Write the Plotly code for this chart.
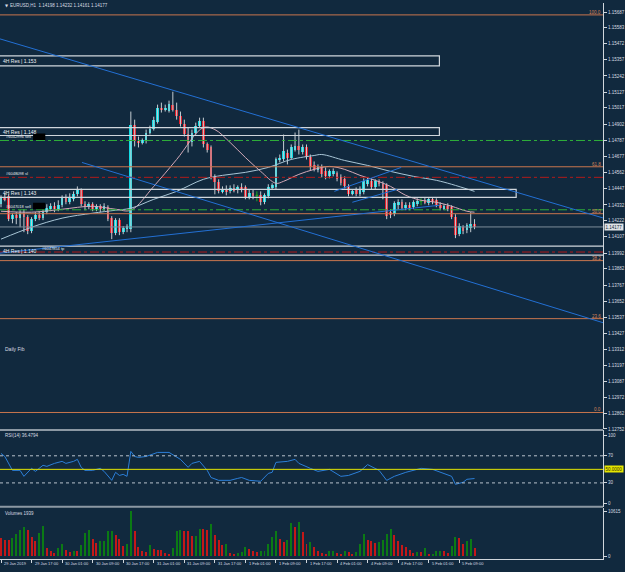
import plotly.graph_objects as go

W, H = 625, 572
BG = '#11293e'
TXT = '#d8dde2'
FONT = 'Liberation Sans'

# ---------------- data ----------------
time_labels = ["29 Jan 2019", "29 Jan 17:00", "30 Jan 01:00", "30 Jan 09:00", "30 Jan 17:00",
               "31 Jan 01:00", "31 Jan 09:00", "31 Jan 17:00", "1 Feb 01:00", "1 Feb 09:00",
               "1 Feb 17:00", "4 Feb 01:00", "4 Feb 09:00", "4 Feb 17:00", "5 Feb 01:00", "5 Feb 09:00"]
time_label_bars = [0, 8, 16, 24, 32, 40, 48, 56, 64, 72, 80, 88, 96, 104, 112, 120]

opens = [1.14337,1.14386,1.14393,1.14232,1.14260,1.14239,1.14274,1.14246,1.14147,1.14232,
         1.14260,1.14239,1.14281,1.14309,1.14323,1.14302,1.14330,1.14379,1.14351,1.14372,
         1.14407,1.14435,1.14337,1.14316,1.14337,1.14302,1.14323,1.14302,1.14316,1.14239,
         1.14133,1.14225,1.14140,1.14168,1.14161,1.14899,1.14780,1.14773,1.14780,1.14843,
         1.14871,1.14920,1.15019,1.15005,1.14998,1.15040,1.15005,1.14963,1.14906,1.14836,
         1.14773,1.14843,1.14892,1.14927,1.14759,1.14738,1.14527,1.14492,1.14428,1.14442,
         1.14428,1.14449,1.14435,1.14456,1.14456,1.14386,1.14414,1.14400,1.14400,1.14351,
         1.14393,1.14456,1.14456,1.14653,1.14653,1.14702,1.14667,1.14723,1.14745,1.14709,
         1.14738,1.14674,1.14611,1.14583,1.14597,1.14569,1.14534,1.14548,1.14555,1.14527,
         1.14513,1.14463,1.14414,1.14435,1.14407,1.14421,1.14478,1.14499,1.14456,1.14499,
         1.14478,1.14470,1.14281,1.14267,1.14330,1.14351,1.14309,1.14330,1.14316,1.14344,
         1.14358,1.14365,1.14344,1.14372,1.14365,1.14330,1.14309,1.14323,1.14316,1.14246,
         1.14126,1.14175,1.14154,1.14168,1.14198]
highs = [1.14400,1.14414,1.14407,1.14274,1.14281,1.14295,1.14302,1.14260,1.14246,1.14281,
         1.14288,1.14302,1.14337,1.14344,1.14351,1.14365,1.14400,1.14407,1.14414,1.14428,
         1.14463,1.14449,1.14358,1.14351,1.14351,1.14337,1.14337,1.14344,1.14330,1.14253,
         1.14239,1.14239,1.14182,1.14196,1.14991,1.14934,1.14815,1.14801,1.14864,1.14892,
         1.14955,1.15040,1.15054,1.15040,1.15068,1.15131,1.15054,1.14991,1.14934,1.14878,
         1.14864,1.14913,1.14948,1.14948,1.14773,1.14752,1.14548,1.14513,1.14463,1.14470,
         1.14470,1.14478,1.14470,1.14485,1.14470,1.14442,1.14442,1.14428,1.14428,1.14414,
         1.14478,1.14485,1.14667,1.14688,1.14829,1.14723,1.14759,1.14843,1.14864,1.14759,
         1.14759,1.14688,1.14639,1.14618,1.14618,1.14597,1.14583,1.14590,1.14569,1.14548,
         1.14534,1.14478,1.14442,1.14456,1.14463,1.14520,1.14527,1.14520,1.14513,1.14513,
         1.14499,1.14485,1.14302,1.14358,1.14372,1.14372,1.14351,1.14351,1.14365,1.14379,
         1.14379,1.14386,1.14386,1.14386,1.14379,1.14351,1.14337,1.14344,1.14330,1.14267,
         1.14203,1.14189,1.14203,1.14281,1.14232]
lows = [1.14316,1.14358,1.14218,1.14203,1.14196,1.14175,1.14140,1.14126,1.14133,1.14218,
        1.14225,1.14225,1.14267,1.14288,1.14281,1.14288,1.14316,1.14337,1.14337,1.14358,
        1.14393,1.14323,1.14295,1.14302,1.14288,1.14288,1.14281,1.14288,1.14218,1.14091,
        1.14119,1.14119,1.14126,1.14140,1.14140,1.14745,1.14738,1.14759,1.14766,1.14829,
        1.14857,1.14906,1.14984,1.14991,1.14984,1.14991,1.14934,1.14885,1.14815,1.14702,
        1.14745,1.14829,1.14878,1.14738,1.14702,1.14513,1.14407,1.14414,1.14414,1.14400,
        1.14414,1.14421,1.14414,1.14421,1.14372,1.14372,1.14372,1.14358,1.14330,1.14337,
        1.14379,1.14442,1.14442,1.14632,1.14639,1.14618,1.14653,1.14709,1.14688,1.14688,
        1.14653,1.14576,1.14569,1.14562,1.14527,1.14513,1.14520,1.14534,1.14499,1.14470,
        1.14449,1.14393,1.14400,1.14393,1.14393,1.14407,1.14463,1.14442,1.14442,1.14463,
        1.14372,1.14232,1.14239,1.14253,1.14302,1.14295,1.14295,1.14295,1.14302,1.14323,
        1.14330,1.14337,1.14330,1.14337,1.14316,1.14295,1.14295,1.14288,1.14232,1.14098,
        1.14112,1.14126,1.14133,1.14140,1.14161]
closes = [1.14379,1.14372,1.14232,1.14260,1.14239,1.14274,1.14246,1.14147,1.14232,1.14260,
          1.14239,1.14281,1.14309,1.14323,1.14302,1.14330,1.14379,1.14351,1.14386,1.14407,
          1.14442,1.14337,1.14316,1.14337,1.14302,1.14323,1.14302,1.14323,1.14232,1.14133,
          1.14225,1.14140,1.14168,1.14182,1.14899,1.14780,1.14773,1.14787,1.14843,1.14871,
          1.14934,1.15019,1.15005,1.15019,1.15047,1.15005,1.14963,1.14906,1.14836,1.14759,
          1.14843,1.14892,1.14927,1.14759,1.14723,1.14527,1.14492,1.14428,1.14442,1.14428,
          1.14449,1.14435,1.14456,1.14442,1.14386,1.14414,1.14400,1.14400,1.14351,1.14400,
          1.14456,1.14470,1.14653,1.14667,1.14716,1.14667,1.14738,1.14745,1.14723,1.14738,
          1.14674,1.14597,1.14583,1.14597,1.14548,1.14534,1.14569,1.14569,1.14513,1.14485,
          1.14463,1.14407,1.14428,1.14407,1.14442,1.14499,1.14506,1.14456,1.14499,1.14478,
          1.14442,1.14253,1.14260,1.14344,1.14351,1.14309,1.14330,1.14309,1.14351,1.14358,
          1.14358,1.14351,1.14372,1.14358,1.14330,1.14309,1.14323,1.14302,1.14246,1.14119,
          1.14182,1.14147,1.14189,1.14196,1.14177]

volumes = [4250,3850,3800,4250,5190,6210,6760,6210,4400,3620,
           5430,7000,1890,1260,710,1890,2830,1490,940,1100,
           1080,2520,5430,6210,4010,3070,3460,3500,5820,5850,
           5030,4010,2440,2830,10615,5970,2120,1260,940,2670,
           1730,1490,1340,710,470,1890,5820,6050,5970,5900,
           4640,4700,6370,6300,6210,7628,5030,3850,2670,2910,
           710,310,710,940,2040,1730,1260,860,1100,1150,
           2830,4400,5820,4090,3220,3850,7784,6840,7940,5660,
           2830,3300,2120,1260,710,470,1100,1260,710,470,
           1100,940,470,860,2830,5190,3850,3620,3070,3300,
           3850,5270,6370,5030,3460,2670,2040,1490,710,940,
           860,1890,310,470,1100,1260,1100,710,2280,4480,
           4250,2910,3460,4010,1939]

rsi_bars = [0,1,3,5,6,8,9,11,12,14,16,17,19,20,21,22,24,26,27,29,30,31,32,33,34,35,36,38,41,44,
            47,49,50,52,54,55,57,60,62,63,65,68,70,71,72,75,77,78,81,83,86,89,91,94,96,98,99,101,
            103,106,110,113,116,118,119,121,122,124]
rsi_vals = [73.5,69,48.5,48.5,39.7,51.5,47,56,54.4,58.8,61.8,58.8,61.8,64.7,53,48.5,48.5,51.5,47,33.8,
            45.6,41,42.6,39.7,76.5,69,67.6,69,75,75,64.7,53,58.8,61.8,48.5,38,33.8,33.8,36.7,38,
            33.8,32.4,44,45.6,60.3,61.8,64.7,58.8,51.5,47,50,39.7,41,47,57,51.5,48.5,33.8,39.7,45.6,
            51.5,50,44,39.7,27.9,30.9,35.3,36.48]

ma_fast_bars = [0,8,16,24,30,34,40,46,53,56,60,64,68,72,74,78,82,86,90,94,98,102,106,110,114,118,122,124]
ma_fast_vals = [1.14288,1.14281,1.14302,1.14323,1.14302,1.14295,1.14463,1.14653,1.14878,1.14864,
                1.14773,1.14667,1.14569,1.14485,1.14499,1.14548,1.14583,1.14604,1.14583,1.14541,
                1.14506,1.14463,1.14400,1.14365,1.14351,1.14323,1.14288,1.14281]
ma_slow_bars = [0,8,16,24,30,34,40,46,53,58,64,70,76,82,84,90,96,102,108,114,118,124]
ma_slow_vals = [1.14091,1.14175,1.14239,1.14274,1.14295,1.14309,1.14372,1.14428,1.14513,1.14541,
                1.14562,1.14597,1.14653,1.14681,1.14688,1.14646,1.14611,1.14569,1.14534,1.14506,
                1.14478,1.14428]

price_ticks = [1.15687,1.15583,1.15472,1.15357,1.15242,1.15127,1.15017,1.14902,1.14787,1.14677,
               1.14562,1.14447,1.14332,1.14222,1.14107,1.13992,1.13882,1.13767,1.13652,1.13537,
               1.13427,1.13312,1.13197,1.13087,1.12972,1.12862,1.12752]

fib_low, fib_high = 1.12868, 1.15673
fib_levels = [0.0, 23.6, 38.2, 50.0, 61.8, 100.0]

rect_labels = ["4H Res | 1.153", "4H Res | 1.148", "4H Res | 1.143", "4H Res | 1.140"]
rect_top = [1.15384, 1.14878, 1.14442, 1.14042]
rect_bottom = [1.15314, 1.14822, 1.14386, 1.13978]
rect_end_bar = [114.8, 114.8, 134.9, 160.0]

order_labels = ["#6042996 sell", "#6048098 sl", "#6047018 sell", "#6047854 tp"]
order_prices = [1.14787, 1.14527, 1.14298, 1.14000]
order_kind = ["sell", "sl", "sell", "tp"]

tl_x0 = [-0.3, 21.2, -0.3, 87.3, 92.0]
tl_y0 = [1.15504, 1.14632, 1.13992, 1.14428, 1.14351]
tl_x1 = [157.7, 157.7, 114.8, 104.8, 103.8]
tl_y1 = [1.14240, 1.13501, 1.14330, 1.14597, 1.14442]

bid = 1.14177
rsi_last = 36.4794
vol_max = 10615

# ---------------- geometry (pixels -> paper) ----------------
def px(x):
    return x / W

def py(y):
    return 1 - y / H

X_RIGHT = 604
x_range = [-0.261, 157.65]
main_range = [1.12748, 1.15757]

BULL = '#12dbe3'
BEAR = '#e3202a'
WICK = '#c4ccd2'
DOJI = '#22b022'

fig = go.Figure()

# wicks
for kind, col in (("bull", WICK), ("bear", WICK), ("doji", DOJI)):
    xs, ys = [], []
    for i in range(len(closes)):
        k = "bull" if closes[i] > opens[i] else ("bear" if closes[i] < opens[i] else "doji")
        if k == kind:
            xs += [i, i, None]
            ys += [lows[i], highs[i], None]
    fig.add_trace(go.Scatter(x=xs, y=ys, mode='lines', line=dict(color=col, width=1),
                             hoverinfo='skip', showlegend=False))

bull_i = [i for i in range(len(closes)) if closes[i] > opens[i]]
bear_i = [i for i in range(len(closes)) if closes[i] < opens[i]]
doji_i = [i for i in range(len(closes)) if closes[i] == opens[i]]
fig.add_trace(go.Bar(x=bull_i, y=[closes[i] - opens[i] for i in bull_i], base=[opens[i] for i in bull_i],
                     width=0.72, marker=dict(color=BULL, line=dict(width=0)), showlegend=False))
fig.add_trace(go.Bar(x=bear_i, y=[opens[i] - closes[i] for i in bear_i], base=[closes[i] for i in bear_i],
                     width=0.72, marker=dict(color=BEAR, line=dict(width=0)), showlegend=False))
dx, dy = [], []
for i in doji_i:
    dx += [i - 0.36, i + 0.36, None]
    dy += [opens[i], opens[i], None]
fig.add_trace(go.Scatter(x=dx, y=dy, mode='lines', line=dict(color=DOJI, width=1), showlegend=False))

# moving averages
fig.add_trace(go.Scatter(x=ma_slow_bars, y=ma_slow_vals, mode='lines', line=dict(color='#a9c6d6', width=1),
                         line_shape='spline', showlegend=False))
fig.add_trace(go.Scatter(x=ma_fast_bars, y=ma_fast_vals, mode='lines', line=dict(color='#d4aab8', width=1),
                         line_shape='spline', showlegend=False))

# RSI
fig.add_trace(go.Scatter(x=rsi_bars, y=rsi_vals, mode='lines', line=dict(color='#2c7fd8', width=1),
                         yaxis='y2', showlegend=False))

# volumes
vcol = ['#c41818'] + ['#0b7a14' if volumes[i] > volumes[i - 1] else '#c41818' for i in range(1, len(volumes))]
fig.add_trace(go.Bar(x=list(range(len(volumes))), y=volumes, width=0.26, marker=dict(color=vcol, line=dict(width=0)),
                     yaxis='y3', showlegend=False))

shapes = []
annots = []
small = dict(family=FONT, size=4.5, color=TXT)

# fib
for lv in fib_levels:
    p = fib_low + lv / 100.0 * (fib_high - fib_low)
    shapes.append(dict(type='line', xref='x', yref='y', x0=x_range[0], x1=x_range[1], y0=p, y1=p,
                       line=dict(color='#c9764e', width=1)))
    annots.append(dict(x=px(X_RIGHT - 1), xref='paper', y=p, yref='y', text=f"{lv:.1f}", showarrow=False,
                       xanchor='right', yanchor='bottom', font=dict(family=FONT, size=4.5, color='#d9845a'),
                       borderpad=0, yshift=-1))

# rectangles
for lab, t, b, e in zip(rect_labels, rect_top, rect_bottom, rect_end_bar):
    shapes.append(dict(type='rect', xref='x', yref='y', x0=-1.0, x1=e, y0=b, y1=t,
                       line=dict(color='#d0d6dc', width=1.2), fillcolor='rgba(0,0,0,0)'))
    annots.append(dict(x=0.2, xref='x', y=(t + b) / 2, yref='y', text=lab, showarrow=False, xanchor='left',
                       yanchor='middle', font=dict(family=FONT, size=5, color='#eef2f5'), borderpad=0))

# order lines
for lab, p, k in zip(order_labels, order_prices, order_kind):
    col = '#2fb03a' if k == 'sell' else '#b31a1a'
    shapes.append(dict(type='line', xref='x', yref='y', x0=x_range[0], x1=x_range[1], y0=p, y1=p,
                       line=dict(color=col, width=1, dash='dashdot')))
    xpos = 10.6 if k == 'tp' else 1.0
    annots.append(dict(x=xpos, xref='x', y=p, yref='y', text=lab, showarrow=False, xanchor='left',
                       yanchor='bottom', font=dict(family=FONT, size=4, color='#e8ecef'), borderpad=0))
    if k == 'sell':
        shapes.append(dict(type='rect', xref='x', yref='y', x0=8.4, x1=11.6, y0=p + 0.00003, y1=p + 0.00050,
                           line=dict(width=0), fillcolor='#000000'))

# bid line
shapes.append(dict(type='line', xref='x', yref='y', x0=x_range[0], x1=x_range[1], y0=bid, y1=bid,
                   line=dict(color='#7d8c99', width=1)))

# trend lines
for a, b, c, d in zip(tl_x0, tl_y0, tl_x1, tl_y1):
    shapes.append(dict(type='line', xref='x', yref='y', x0=a, y0=b, x1=c, y1=d,
                       line=dict(color='#2370d4', width=1)))

# RSI levels
for lv, col, ds in ((70, '#b8c2cc', 'dot'), (30, '#b8c2cc', 'dot'), (50, '#e6e600', 'solid')):
    shapes.append(dict(type='line', xref='x', yref='y2', x0=x_range[0], x1=x_range[1], y0=lv, y1=lv,
                       line=dict(color=col, width=1, dash=ds)))

# panel separators
for yy in (431.5, 508.5):
    shapes.append(dict(type='line', xref='paper', yref='paper', x0=0, x1=px(X_RIGHT), y0=py(yy), y1=py(yy),
                       line=dict(color='#8c98a3', width=2)))

# texts
annots.append(dict(x=px(3), y=py(6), xref='paper', yref='paper', text='▼', showarrow=False, xanchor='left',
                   yanchor='middle', font=dict(family='DejaVu Sans', size=4, color=TXT)))
annots.append(dict(x=px(8), y=py(6), xref='paper', yref='paper',
                   text='EURUSD,H1  1.14198 1.14232 1.14161 1.14177', showarrow=False, xanchor='left',
                   yanchor='middle', font=small))
annots.append(dict(x=px(3), y=py(437), xref='paper', yref='paper', text=f'RSI(14) {rsi_last}', showarrow=False,
                   xanchor='left', yanchor='middle', font=small))
annots.append(dict(x=px(3), y=py(515), xref='paper', yref='paper', text=f'Volumes {volumes[-1]}', showarrow=False,
                   xanchor='left', yanchor='middle', font=small))
annots.append(dict(x=px(3), y=py(350), xref='paper', yref='paper', text='Daily Fib', showarrow=False,
                   xanchor='left', yanchor='middle', font=dict(family=FONT, size=5, color=TXT)))
annots.append(dict(x=px(X_RIGHT + 1), y=bid, xref='paper', yref='y', text=f'{bid:.5f}', showarrow=False,
                   xanchor='left', yanchor='middle', bgcolor='#dfe3e6', borderpad=0.5,
                   font=dict(family=FONT, size=4.5, color='#12293e')))
annots.append(dict(x=px(X_RIGHT + 1), y=50, xref='paper', yref='y2', text='50.0000', showarrow=False,
                   xanchor='left', yanchor='middle', bgcolor='#e6e600', borderpad=0.5,
                   font=dict(family=FONT, size=4.5, color='#333300')))
for lab, b in zip(time_labels, time_label_bars):
    annots.append(dict(x=b + 0.3, xref='x', y=py(565.5), yref='paper', text=lab, showarrow=False,
                       xanchor='left', yanchor='middle', font=dict(family=FONT, size=4, color=TXT)))

axcol = '#d0d6dc'
yax_common = dict(side='right', anchor='x', showgrid=False, zeroline=False, showline=True, linecolor=axcol,
                  linewidth=1, ticks='outside', ticklen=3, tickcolor=axcol, tickfont=small, fixedrange=True)

fig.update_layout(
    width=W, height=H, margin=dict(l=0, r=0, t=0, b=0),
    paper_bgcolor=BG, plot_bgcolor=BG, barmode='overlay', bargap=0, showlegend=False,
    xaxis=dict(domain=[0, px(X_RIGHT)], range=x_range, anchor='y3', showgrid=False, zeroline=False,
               showline=True, linecolor=axcol, linewidth=1, ticks='outside', ticklen=3, tickcolor=axcol,
               tickvals=time_label_bars, showticklabels=False),
    yaxis=dict(domain=[py(431), py(3)], range=main_range, tickvals=price_ticks,
               ticktext=[f'{p:.5f}' for p in price_ticks], **yax_common),
    yaxis2=dict(domain=[py(509), py(432)], range=[-5.88, 107.35], tickvals=[100, 70, 30, 0],
                ticktext=['100', '70', '30', '0'], **yax_common),
    yaxis3=dict(domain=[py(561), py(510)], range=[-708, 11323], tickvals=[vol_max, 0],
                ticktext=[str(vol_max), '0'], **yax_common),
    shapes=shapes, annotations=annots,
)

fig.write_html("out.html")
